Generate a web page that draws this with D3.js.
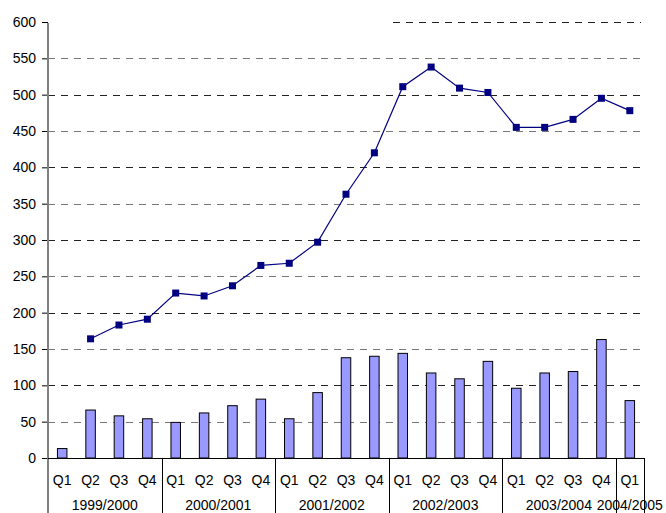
<!DOCTYPE html>
<html>
<head>
<meta charset="utf-8">
<script src="https://cdn.jsdelivr.net/npm/d3@7"></script>
<style>
  body { margin: 0; background: #fff; }
  text { font-family: "Liberation Sans", Arial, sans-serif; font-size: 14px; fill: #000; }
</style>
</head>
<body>
<div id="chart"></div>
<script>
// quarters, financial years
const quarters = ['Q1','Q2','Q3','Q4','Q1','Q2','Q3','Q4','Q1','Q2','Q3','Q4',
                  'Q1','Q2','Q3','Q4','Q1','Q2','Q3','Q4','Q1'];
const years = ['1999/2000','2000/2001','2001/2002','2002/2003','2003/2004','2004/2005'];
const barValues = [13, 66, 58, 54, 49, 62, 72, 81, 54, 90, 138, 140,
                   144, 117, 109, 133, 96, 117, 119, 163, 79];
const lineValues = [null, 164, 183, 191, 227, 223, 237, 265, 268, 297, 363, 420,
                    511, 538, 509, 503, 455, 455, 466, 495, 478];
const yTicks = [0, 50, 100, 150, 200, 250, 300, 350, 400, 450, 500, 550, 600];

const width = 666, height = 513;
const plotLeft = 48, plotRight = 644, plotTop = 22, plotBottom = 458;

const svg = d3.select('#chart').append('svg')
    .attr('width', width)
    .attr('height', height);

const x = d3.scaleBand()
    .domain(d3.range(quarters.length))
    .range([plotLeft, plotRight]);

const y = d3.scaleLinear()
    .domain([0, 600])
    .range([plotBottom, plotTop]);

// gridlines (the 600 one only shows on the right part in the original)
svg.selectAll('line.grid')
   .data(yTicks.filter(d => d > 0))
   .enter()
   .append('line')
   .attr('x1', d => d === 600 ? 393 : plotLeft)
   .attr('x2', plotRight - 3)
   .attr('y1', d => Math.round(y(d)) + 0.5)
   .attr('y2', d => Math.round(y(d)) + 0.5)
   .attr('stroke', (d, i) => i % 2 ? '#222' : '#777')
   .attr('stroke-width', 1.2)
   .attr('stroke-dasharray', '7,6');

// y axis
const yAxis = d3.axisLeft(y).tickValues(yTicks).tickSize(6).tickPadding(6);
const gy = svg.append('g')
    .attr('transform', `translate(${plotLeft},0)`)
    .call(yAxis);
gy.select('.domain').remove();
gy.selectAll('.tick line').attr('stroke', '#000');
gy.selectAll('.tick text')
  .style('font-family', '"Liberation Sans", Arial, sans-serif')
  .style('font-size', '14px');

svg.append('line')
   .attr('x1', plotLeft).attr('x2', plotLeft)
   .attr('y1', plotTop + 1).attr('y2', height)
   .attr('stroke', '#808080')
   .attr('stroke-width', 2);

// bars
const bw = 9.5;
svg.selectAll('rect.bar')
   .data(barValues)
   .enter()
   .append('rect')
   .attr('x', (d, i) => x(i) + x.bandwidth() / 2 - bw / 2)
   .attr('y', d => y(d))
   .attr('width', bw)
   .attr('height', d => plotBottom - y(d))
   .attr('fill', '#9999ff')
   .attr('stroke', '#000')
   .attr('stroke-width', 1);

// line with square markers
const pts = lineValues.map((v, i) => ({ i, v })).filter(d => d.v !== null);
const line = d3.line()
    .x(d => x(d.i) + x.bandwidth() / 2)
    .y(d => y(d.v));

svg.append('path')
   .datum(pts)
   .attr('d', line)
   .attr('fill', 'none')
   .attr('stroke', '#000080')
   .attr('stroke-width', 1.2);

svg.selectAll('rect.mark')
   .data(pts)
   .enter()
   .append('rect')
   .attr('x', d => x(d.i) + x.bandwidth() / 2 - 3.5)
   .attr('y', d => y(d.v) - 3.5)
   .attr('width', 7)
   .attr('height', 7)
   .attr('fill', '#000080');

// category axis
svg.append('line')
   .attr('x1', plotLeft).attr('x2', plotRight)
   .attr('y1', plotBottom + 0.5).attr('y2', plotBottom + 0.5)
   .attr('stroke', '#000');

svg.selectAll('text.q')
   .data(quarters)
   .enter()
   .append('text')
   .attr('x', (d, i) => x(i) + x.bandwidth() / 2)
   .attr('y', 485)
   .attr('text-anchor', 'middle')
   .text(d => d);

// year groups: 4 quarters each, last one has 1
const groupStart = years.map((d, i) => i * 4);
const groupEnd = years.map((d, i) => Math.min(i * 4 + 4, quarters.length));

svg.selectAll('line.sep')
   .data(groupEnd)
   .enter()
   .append('line')
   .attr('x1', d => Math.round(d === quarters.length ? plotRight : x(d)) + 0.5)
   .attr('x2', d => Math.round(d === quarters.length ? plotRight : x(d)) + 0.5)
   .attr('y1', plotBottom)
   .attr('y2', height)
   .attr('stroke', '#000');

svg.selectAll('text.year')
   .data(years)
   .enter()
   .append('text')
   .attr('x', (d, i) => {
       const a = x(groupStart[i]);
       const b = groupEnd[i] === quarters.length ? plotRight : x(groupEnd[i]);
       return (a + b) / 2;
   })
   .attr('y', 510)
   .attr('text-anchor', 'middle')
   .text(d => d);
</script>
</body>
</html>
